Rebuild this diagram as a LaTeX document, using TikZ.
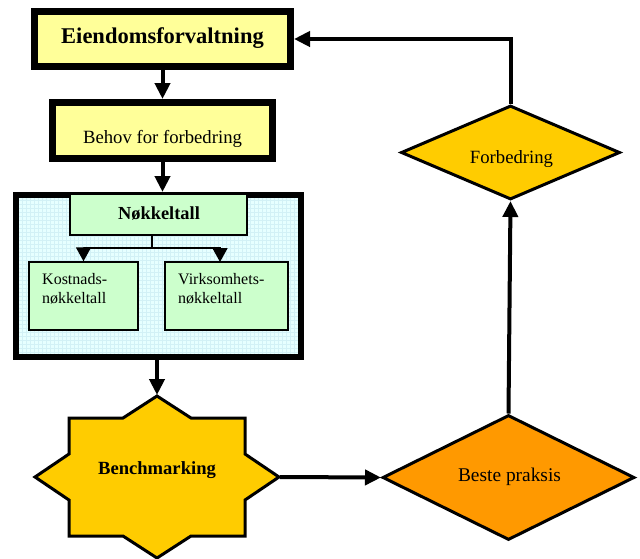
\documentclass[tikz,border=0pt]{standalone}
\usepackage{fontspec}
\setmainfont{Liberation Serif}
\usetikzlibrary{arrows.meta,shapes.geometric}
\definecolor{boxyellow}{HTML}{FFFF99}
\definecolor{boxgreen}{HTML}{CCFFCC}
\definecolor{bgcyan}{HTML}{E6FFFF}
\definecolor{gridcyan}{HTML}{D2F1F6}
\definecolor{stargold}{HTML}{FFCC00}
\definecolor{bestorange}{HTML}{FF9900}
\begin{document}
\begin{tikzpicture}[x=1pt,y=-1pt,
  thickbox/.style={draw=black,line width=7pt,fill=boxyellow,inner sep=0pt,rectangle},
  greenbox/.style={draw=black,line width=1.5pt,fill=boxgreen,inner sep=0pt,rectangle},
  conn/.style={line width=4pt,-{Triangle[length=16pt,width=15pt]}},
  smallconn/.style={line width=1.8pt,-{Triangle[length=14pt,width=15pt]}},
  plainconn/.style={line width=1.8pt},
  diam/.style={diamond,draw=black,line width=3pt,inner sep=0pt,aspect=2},
  txt/.style={inner sep=0pt,anchor=base},
  smalltxt/.style={inner sep=0pt,anchor=base west,font=\fontsize{16}{19}\selectfont},
]
\useasboundingbox (0,0) rectangle (640,558);

% top boxes
\node[thickbox,minimum width=256pt,minimum height=55pt] (eien) at (162.5,39) {};
\node[txt,font=\fontsize{22.5}{26}\selectfont\bfseries] (eientext) at (162.5,43.5) {Eiendomsforvaltning};

\node[thickbox,minimum width=220pt,minimum height=56pt] (behov) at (162.5,130.5) {};
\node[txt,font=\fontsize{18.7}{22}\selectfont] (behovtext) at (162.5,143) {Behov for forbedring};

% Nokkeltall group
\node[draw=black,line width=6pt,fill=bgcyan,inner sep=0pt,rectangle,
      minimum width=285pt,minimum height=162pt,
      path picture={\draw[gridcyan,line width=0.3pt,step=4pt]
        (path picture bounding box.south west) grid (path picture bounding box.north east);}]
      (outer) at (158.5,276) {};
\node[greenbox,minimum width=177pt,minimum height=41pt] (nok) at (158.5,214.5) {};
\node[txt,font=\fontsize{18.4}{22}\selectfont\bfseries] (noktext) at (159,219) {Nøkkeltall};

\node[greenbox,minimum width=109pt,minimum height=68pt] (kost) at (83.5,296) {};
\node[smalltxt,align=left] (kosttext) at (42,284) {Kostnads-};
\node[smalltxt,align=left] (kosttext2) at (42,303) {nøkkeltall};

\node[greenbox,minimum width=123pt,minimum height=68pt] (virk) at (226.5,296) {};
\node[smalltxt,align=left] (virktext) at (178,284) {Virksomhets-};
\node[smalltxt,align=left] (virktext2) at (178,303) {nøkkeltall};

\coordinate (split) at (152,248);
\coordinate (virkin) at (220,262);
\draw[plainconn] (split |- nok.south) -- (split);
\draw[smallconn] (split) -| (kost.north);
\draw[smallconn] (split) -| (virkin);

% Benchmarking star
\begin{scope}[shift={(157,477)}]
\draw[line width=3pt,fill=stargold,line join=miter]
  (0,-81) -- (34,-59) -- (88,-59) -- (88,-23) -- (122,0) -- (88,23)
  -- (88,59) -- (34,59) -- (0,81) -- (-34,59) -- (-88,59) -- (-88,23)
  -- (-122,0) -- (-88,-23) -- (-88,-59) -- (-34,-59) -- cycle;
\end{scope}
\coordinate (bT) at (157,395);
\coordinate (bR) at (280,477);
\node[txt,font=\fontsize{18.6}{22}\selectfont\bfseries] (bench) at (157,474) {Benchmarking};

% diamonds
\node[diam,fill=bestorange,minimum width=252pt,minimum height=125pt] (beste) at (508.5,477.5) {};
\node[txt,font=\fontsize{19.4}{22}\selectfont] (bestetext) at (509.5,481) {Beste praksis};

\node[diam,fill=stargold,minimum width=219pt,minimum height=94pt] (forb) at (510.5,152.5) {};
\node[txt,font=\fontsize{18.7}{22}\selectfont] (forbtext) at (511.5,163) {Forbedring};

% connectors
\draw[conn] (eien.south) -- (behov.north);
\draw[conn] (behov.south) -- (behov.south |- outer.north);
\draw[conn] (outer.south -| bT) -- (bT);
\draw[conn] (bR) -- (beste.west);
\draw[conn] (beste.north) -- (forb.south);
\draw[conn] (forb.north) |- (eien.east);
\end{tikzpicture}
\end{document}
